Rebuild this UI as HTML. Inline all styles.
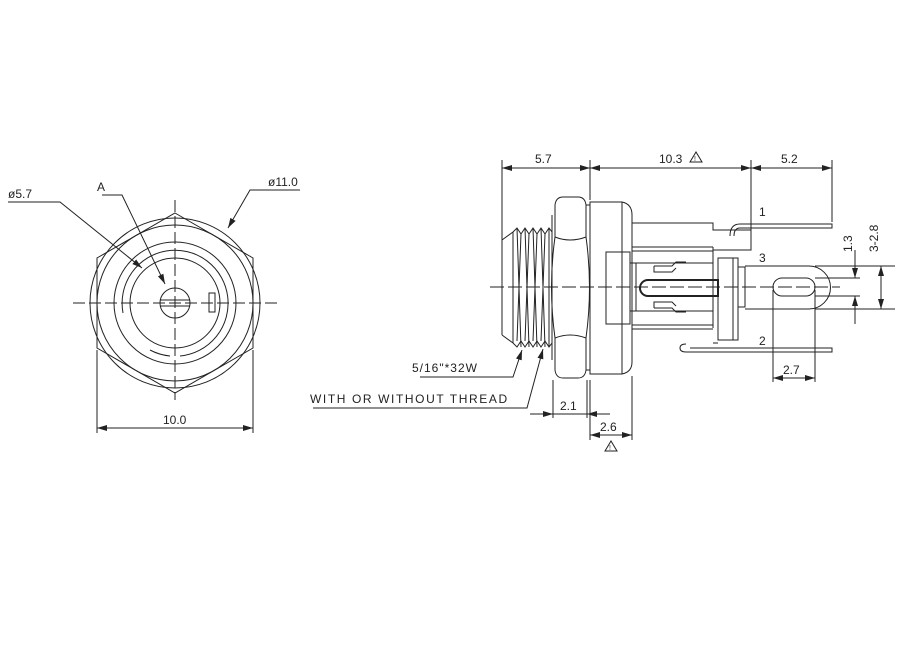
<!DOCTYPE html>
<html><head><style>
html,body{margin:0;padding:0;background:#fff;}
svg{display:block}
text{font-family:"Liberation Sans",sans-serif;fill:#222;}
</style></head><body>
<svg width="900" height="658" viewBox="0 0 900 658" xmlns="http://www.w3.org/2000/svg">
<defs>
<marker id="a" viewBox="0 0 10 6" refX="10" refY="3" markerWidth="10" markerHeight="6" orient="auto-start-reverse" markerUnits="userSpaceOnUse"><path d="M0,0 L10,3 L0,6 z" fill="#222"/></marker>
</defs>
<g stroke="#222" stroke-width="1" fill="none">
<!-- LEFT VIEW -->
<circle cx="175" cy="303" r="85"/>
<polygon points="175,213 253,258 253,348 175,393 97,348 97,258"/>
<circle cx="175" cy="303" r="78"/>
<circle cx="175" cy="303" r="61"/>
<circle cx="175" cy="303" r="45"/>
<path d="M123,313 A53,53 0 1 1 180,356"/>
<path d="M170,356 A53,53 0 0 1 150,350"/>
<circle cx="175" cy="303" r="15"/>
<line x1="160" y1="300" x2="190" y2="300"/><line x1="160" y1="306" x2="190" y2="306"/>
<rect x="209" y="293" width="6" height="19"/>
<line x1="73" y1="303" x2="278" y2="303" stroke-dasharray="12,4"/>
<line x1="175" y1="200" x2="175" y2="400" stroke-dasharray="12,4"/>
<line x1="97" y1="350" x2="97" y2="433"/><line x1="253" y1="350" x2="253" y2="433"/>
<line x1="97" y1="428" x2="253" y2="428" marker-start="url(#a)" marker-end="url(#a)"/>
<polyline points="8,202 60,202 142,268" marker-end="url(#a)"/>
<polyline points="102,195 122,195 165,284" marker-end="url(#a)"/>
<polyline points="300,190 250,190 228,228" marker-end="url(#a)"/>

<!-- SIDE VIEW -->
<line x1="490" y1="287" x2="840" y2="287" stroke-dasharray="14,4"/>
<!-- thread -->
<path d="M502,240 L502,335"/>
<path d="M502,240 L513,232 L517,228 L521,234 L525,228 L529,234 L533,228 L537,234 L541,228 L545,234 L549,228 L552,232"/>
<path d="M502,335 L513,343 L517,347 L521,341 L525,347 L529,341 L533,347 L537,341 L541,347 L545,341 L549,347 L552,343"/>
<line x1="513" y1="232" x2="513" y2="343"/>
<line x1="517" y1="228" x2="521" y2="347"/><line x1="521" y1="234" x2="517" y2="341"/>
<line x1="525" y1="228" x2="529" y2="347"/><line x1="529" y1="234" x2="525" y2="341"/>
<line x1="533" y1="228" x2="537" y2="347"/><line x1="537" y1="234" x2="533" y2="341"/>
<line x1="541" y1="228" x2="545" y2="347"/><line x1="545" y1="234" x2="541" y2="341"/>
<line x1="549" y1="228" x2="549" y2="347"/>
<line x1="552" y1="215" x2="552" y2="360"/>
<!-- nut -->
<path d="M555,237 L555,205 Q556,197 563,197 L578,197 Q585,197 586,205 L586,237"/>
<path d="M555,338 L555,370 Q556,378 563,378 L578,378 Q585,378 586,370 L586,338"/>
<path d="M555,237 Q548,287 555,338"/>
<path d="M586,237 Q593,287 586,338"/>
<path d="M555,237 Q570,243 586,237"/>
<path d="M555,338 Q570,332 586,338"/>
<line x1="586" y1="205" x2="590" y2="205"/><line x1="586" y1="370" x2="590" y2="370"/>
<!-- flange -->
<path d="M590,202 L622,202 Q632,204 632,215 L632,362 Q632,372 622,374 L590,374 Z"/>
<line x1="622" y1="202" x2="622" y2="374"/>
<rect x="606" y="252" width="24" height="72"/>
<!-- body -->
<path d="M632,223 L713,223 L713,230 L751,230 L751,250 L713,250"/>
<line x1="632" y1="247" x2="713" y2="247"/><line x1="632" y1="251" x2="713" y2="251"/>
<line x1="632" y1="325" x2="713" y2="325"/><line x1="632" y1="329" x2="713" y2="329"/>
<line x1="713" y1="247" x2="713" y2="328"/>
<path d="M630,263 L713,263"/><path d="M630,311 L713,311"/>
<path d="M654,266 L672,266 L676,262 L686,262"/><path d="M654,266 L654,272 L672,272 L676,268"/>
<path d="M654,308 L672,308 L676,312 L686,312"/><path d="M654,308 L654,302 L672,302 L676,306"/>
<line x1="636" y1="263" x2="636" y2="311"/>
<rect x="718" y="258" width="20" height="82"/>
<line x1="733" y1="258" x2="733" y2="340"/>
<rect x="738" y="267" width="7" height="40"/>
<line x1="713" y1="343" x2="718" y2="343"/>
<path d="M648,280 L718,280 L718,296 L648,296 A8,8 0 0 1 648,280 Z" stroke-width="2"/>
<!-- pins -->
<path d="M730,236 Q730,224 740,224 L832,224 L832,228 L740,228 Q734,228 734,236"/>
<path d="M690,348 L832,348 L832,352 L686,352 Q680,352 680,348 Q680,344 686,344"/>
<path d="M745,266 L809,266 A21.5,21.5 0 0 1 809,309 L745,309"/>
<rect x="773" y="278" width="42" height="18" rx="9"/>
<!-- dims top -->
<line x1="502" y1="160" x2="502" y2="300"/>
<line x1="590" y1="160" x2="590" y2="200"/>
<line x1="751" y1="160" x2="751" y2="230"/>
<line x1="832" y1="160" x2="832" y2="222"/>
<line x1="502" y1="168" x2="590" y2="168" marker-start="url(#a)" marker-end="url(#a)"/>
<line x1="590" y1="168" x2="751" y2="168" marker-start="url(#a)" marker-end="url(#a)"/>
<line x1="751" y1="168" x2="832" y2="168" marker-start="url(#a)" marker-end="url(#a)"/>
<!-- right dims -->
<line x1="815" y1="266" x2="895" y2="266"/><line x1="815" y1="309" x2="895" y2="309"/>
<line x1="815" y1="278" x2="860" y2="278"/><line x1="815" y1="296" x2="860" y2="296"/>
<line x1="855" y1="250" x2="855" y2="278" marker-end="url(#a)"/>
<line x1="855" y1="324" x2="855" y2="296" marker-end="url(#a)"/>
<line x1="881" y1="266" x2="881" y2="309" marker-start="url(#a)" marker-end="url(#a)"/>
<!-- 2.7 -->
<line x1="773" y1="290" x2="773" y2="382"/><line x1="815" y1="290" x2="815" y2="382"/>
<line x1="773" y1="378" x2="815" y2="378" marker-start="url(#a)" marker-end="url(#a)"/>
<!-- 2.1 / 2.6 -->
<line x1="553" y1="380" x2="553" y2="418"/><line x1="587" y1="380" x2="587" y2="418"/>
<line x1="590" y1="380" x2="590" y2="440"/><line x1="632" y1="376" x2="632" y2="440"/>
<line x1="530" y1="414" x2="553" y2="414" marker-end="url(#a)"/>
<line x1="553" y1="414" x2="587" y2="414"/>
<line x1="610" y1="414" x2="587" y2="414" marker-end="url(#a)"/>
<line x1="590" y1="435" x2="632" y2="435" marker-start="url(#a)" marker-end="url(#a)"/>
<!-- leaders -->
<polyline points="420,377 513,377 522,350" marker-end="url(#a)"/>
<polyline points="313,408 527,408 543,349" marker-end="url(#a)"/>
<!-- warning triangles -->
<path d="M690,162 L696,152 L702,162 Z"/>
<path d="M605,451 L611,441 L617,451 Z"/>
</g>
<g font-size="12">
<text x="8" y="198">ø5.7</text>
<text x="97" y="191">A</text>
<text x="268" y="186">ø11.0</text>
<text x="163" y="424">10.0</text>
<text x="535" y="163">5.7</text>
<text x="659" y="163">10.3</text>
<text x="781" y="163">5.2</text>
<text x="759" y="216">1</text>
<text x="759" y="262">3</text>
<text x="759" y="345">2</text>
<text x="783" y="374">2.7</text>
<text x="560" y="410">2.1</text>
<text x="600" y="431">2.6</text>
<text x="412" y="372" letter-spacing="1">5/16"*32W</text>
<text x="310" y="403" letter-spacing="1.6">WITH OR WITHOUT THREAD</text>
<text transform="translate(852,252) rotate(-90)">1.3</text>
<text transform="translate(878,252) rotate(-90)">3-2.8</text>
</g>
<g font-size="7"><text x="694" y="161">!</text><text x="609" y="450">!</text></g>
</svg>
</body></html>
